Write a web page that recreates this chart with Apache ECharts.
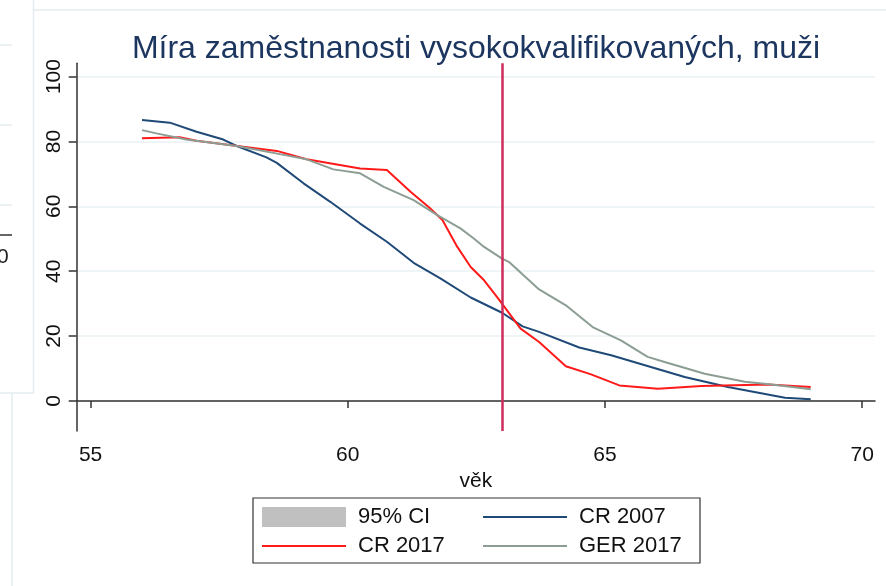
<!DOCTYPE html>
<html>
<head>
<meta charset="utf-8">
<script src="https://cdn.jsdelivr.net/npm/echarts@6/dist/echarts.min.js"></script>
<style>
  html, body { margin: 0; padding: 0; background: #fff; }
  #chart { width: 886px; height: 586px; }
</style>
</head>
<body>
<div id="chart"></div>
<script>
// data (age, employment rate %)
const ageCR2007 = [56.0, 56.54, 57.06, 57.58, 57.84, 58.42, 58.62, 59.14, 59.66, 60.24, 60.76, 61.28, 61.8, 62.39, 63.0, 63.4, 63.72, 64.5, 65.12, 66.55, 67.39, 68.5, 69.0];
const valCR2007 = [86.6, 85.8, 83.0, 80.6, 78.6, 75.1, 73.4, 67.1, 61.4, 54.7, 49.1, 42.6, 37.8, 31.9, 27.2, 23.0, 21.3, 16.5, 14.1, 7.4, 4.3, 1.0, 0.5];

const ageCR2017 = [56.0, 56.73, 57.06, 57.7, 58.62, 59.2, 60.24, 60.76, 61.22, 61.6, 61.84, 62.13, 62.39, 62.65, 62.9, 63.36, 63.72, 64.24, 64.73, 65.28, 66.03, 66.88, 68.17, 69.0];
const valCR2017 = [81.0, 81.3, 80.2, 78.9, 77.1, 74.5, 71.7, 71.2, 64.5, 59.4, 55.8, 47.5, 41.3, 37.2, 32.1, 22.3, 18.2, 10.7, 8.2, 4.8, 3.8, 4.6, 5.1, 4.3];

const ageGER2017 = [56.0, 56.28, 56.86, 57.84, 58.68, 59.2, 59.72, 60.24, 60.7, 61.28, 61.74, 62.19, 62.45, 62.65, 63.0, 63.13, 63.72, 64.24, 64.76, 65.31, 65.83, 66.16, 66.94, 67.72, 68.24, 69.0];
const valGER2017 = [83.5, 82.5, 80.6, 78.6, 76.1, 74.5, 71.4, 70.2, 66.0, 61.9, 57.3, 53.2, 50.1, 47.5, 43.9, 42.9, 34.4, 29.5, 22.8, 18.7, 13.6, 12.0, 8.4, 5.9, 5.1, 3.6];

const xTicks = [55, 60, 65, 70];
const yTicks = [0, 20, 40, 60, 80, 100];
const retirementAge = 63;

const font = "'Liberation Sans', Arial, sans-serif";
const lineIcon = "path://M0,0 L84,0 L84,2 L0,2 Z"; // plain line in the legend, no marker

function pairs(xs, ys) {
  return xs.map((x, i) => [x, ys[i]]);
}

const contenedor = document.getElementById("chart");
const myChart = echarts.init(contenedor);

// faint bits of the neighbouring panel cut off on the left edge
const faint = "#e4ebee";
const graphics = [
  { type: "line", shape: { x1: 33.5, y1: 0, x2: 33.5, y2: 393 }, style: { stroke: faint, lineWidth: 1.5 } },
  { type: "line", shape: { x1: 33.5, y1: 10, x2: 886, y2: 10 }, style: { stroke: faint, lineWidth: 1.5 } },
  { type: "line", shape: { x1: 0, y1: 45, x2: 12, y2: 45 }, style: { stroke: faint, lineWidth: 1.5 } },
  { type: "line", shape: { x1: 0, y1: 125, x2: 12, y2: 125 }, style: { stroke: faint, lineWidth: 1.5 } },
  { type: "line", shape: { x1: 0, y1: 205, x2: 12, y2: 205 }, style: { stroke: faint, lineWidth: 1.5 } },
  { type: "line", shape: { x1: 0, y1: 393, x2: 33.5, y2: 393 }, style: { stroke: faint, lineWidth: 1.5 } },
  { type: "line", shape: { x1: 12, y1: 393, x2: 12, y2: 586 }, style: { stroke: faint, lineWidth: 1.5 } },
  { type: "line", shape: { x1: 0, y1: 235, x2: 12, y2: 235 }, style: { stroke: "#333", lineWidth: 1.5 } },
  { type: "text", left: -3, top: 247, style: { text: "0", font: "21px " + font, fill: "#222" } },
  // legend frame
  { type: "rect", shape: { x: 253, y: 498, width: 447, height: 65 }, style: { fill: "none", stroke: "#333", lineWidth: 1.2 } }
];

const legendText = { fontFamily: font, fontSize: 22, color: "#111", lineHeight: 20, padding: [0, 0, 0, 7] };

var option = {
  animation: false,
  backgroundColor: "#fff",
  title: {
    text: "Míra zaměstnanosti vysokokvalifikovaných, muži",
    left: 471,
    textAlign: "center",
    top: 28,
    textStyle: { fontFamily: font, fontSize: 32, fontWeight: "normal", color: "#1c3660" }
  },
  graphic: graphics,
  legend: [
    {
      data: [{ name: "95% CI", icon: "rect" }, { name: "CR 2017", icon: lineIcon }],
      orient: "vertical",
      left: 257,
      top: 501,
      itemWidth: 84,
      itemHeight: 20,
      itemGap: 7,
      symbolKeepAspect: true,
      selectedMode: false,
      textStyle: legendText
    },
    {
      data: [{ name: "CR 2007", icon: lineIcon }, { name: "GER 2017", icon: lineIcon }],
      orient: "vertical",
      left: 478,
      top: 501,
      itemWidth: 84,
      itemHeight: 20,
      itemGap: 7,
      symbolKeepAspect: true,
      selectedMode: false,
      textStyle: legendText
    }
  ],
  grid: { left: 76.7, right: 11, top: 63.3, bottom: 155, containLabel: false },
  xAxis: {
    type: "value",
    min: 54.73,
    max: 70.25,
    name: "věk",
    nameLocation: "middle",
    nameGap: 30,
    nameTextStyle: { fontFamily: font, fontSize: 21, color: "#111" },
    axisLine: { lineStyle: { color: "#333", width: 1.5 } },
    axisTick: { length: 7, lineStyle: { color: "#333", width: 1.5 }, customValues: xTicks },
    axisLabel: { customValues: xTicks, margin: 14, fontFamily: font, fontSize: 21, color: "#111" },
    splitLine: { show: false }
  },
  yAxis: {
    type: "value",
    min: -9.25,
    max: 104.1,
    axisLine: { show: true, lineStyle: { color: "#333", width: 1.5 } },
    axisTick: { show: true, length: 8, lineStyle: { color: "#333", width: 1.5 }, customValues: yTicks },
    axisLabel: { customValues: yTicks, rotate: 90, margin: 12, fontFamily: font, fontSize: 21, color: "#111" },
    splitLine: { show: true, lineStyle: { color: "#eaf1f3", width: 1.5 } }
  },
  series: [
    {
      name: "95% CI",
      type: "line",
      data: [],
      color: "#c0c0c0",
      itemStyle: { color: "#c0c0c0" }
    },
    {
      name: "CR 2007",
      type: "line",
      data: pairs(ageCR2007, valCR2007),
      symbol: "none",
      color: "#1f4a78",
      lineStyle: { color: "#1f4a78", width: 2 }
    },
    {
      name: "CR 2017",
      type: "line",
      data: pairs(ageCR2017, valCR2017),
      symbol: "none",
      color: "#ff1a1a",
      lineStyle: { color: "#ff1a1a", width: 2 }
    },
    {
      name: "GER 2017",
      type: "line",
      data: pairs(ageGER2017, valGER2017),
      symbol: "none",
      color: "#8c9e94",
      lineStyle: { color: "#8c9e94", width: 2 },
      markLine: {
        silent: true,
        symbol: "none",
        label: { show: false },
        lineStyle: { color: "#cc2d5a", width: 2.5, type: "solid" },
        data: [{ xAxis: retirementAge }]
      }
    }
  ]
};

myChart.setOption(option);
</script>
</body>
</html>
